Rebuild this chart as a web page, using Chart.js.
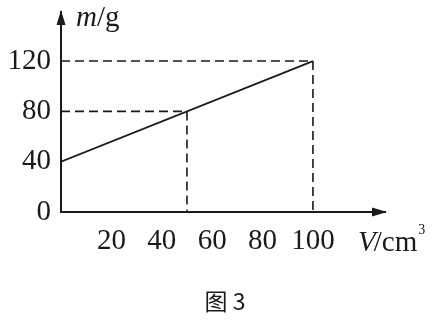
<!DOCTYPE html>
<html>
<head>
<meta charset="utf-8">
<script src="https://cdn.jsdelivr.net/npm/chart.js@4/dist/chart.umd.min.js"></script>
<style>
html,body{margin:0;padding:0;background:#fff;}
#wrap{width:437px;height:323px;position:relative;}
</style>
</head>
<body>
<div id="wrap"><canvas id="c" width="437" height="323"></canvas></div>
<script>
// Data
const volumes = [0, 100];          // V / cm^3
const masses = [40, 120];          // m / g
const guideA = [50, 80];           // dashed guide point (V, m)
const guideB = [100, 120];         // dashed guide point (V, m)
const xTickValues = [20, 40, 60, 80, 100];
const yTickValues = [0, 40, 80, 120];
const xTitle = ['V', '/cm', '3'];
const yTitle = ['m', '/g'];
const caption = '图 3';

const INK = '#1a1a1a';
const DIGIT_FONT = {family: '"Liberation Serif", "Times New Roman", serif', size: 29};

const mainLine = volumes.map((v, i) => ({x: v, y: masses[i]}));
const dashA = [{x: 0, y: guideA[1]}, {x: guideA[0], y: guideA[1]}, {x: guideA[0], y: 0}];
const dashB = [{x: 0, y: guideB[1]}, {x: guideB[0], y: guideB[1]}, {x: guideB[0], y: 0}];

const decor = {
  id: 'decor',
  afterDraw(chart) {
    const {ctx, chartArea: a} = chart;
    ctx.save();
    ctx.fillStyle = INK;
    // arrow heads
    ctx.beginPath();
    ctx.moveTo(a.left, a.top - 2);
    ctx.lineTo(a.left - 4.5, a.top + 13);
    ctx.lineTo(a.left + 4.5, a.top + 13);
    ctx.closePath();
    ctx.fill();
    ctx.beginPath();
    ctx.moveTo(a.right + 2, a.bottom);
    ctx.lineTo(a.right - 13, a.bottom - 4.5);
    ctx.lineTo(a.right - 13, a.bottom + 4.5);
    ctx.closePath();
    ctx.fill();

    ctx.textBaseline = 'alphabetic';
    ctx.textAlign = 'left';
    // y title m/g
    let x = 76, y = 26;
    ctx.font = 'italic 29px "Liberation Serif", serif';
    ctx.fillText(yTitle[0], x, y);
    x += ctx.measureText(yTitle[0]).width;
    ctx.font = '29px "Liberation Serif", serif';
    ctx.fillText(yTitle[1], x, y);

    // x title V/cm3
    x = 358; y = 251;
    ctx.font = 'italic 29px "Liberation Serif", serif';
    ctx.fillText(xTitle[0], x, y);
    x += ctx.measureText(xTitle[0]).width - 2;
    ctx.font = '29px "Liberation Serif", serif';
    ctx.fillText(xTitle[1], x, y);
    x += ctx.measureText(xTitle[1]).width + 1;
    ctx.font = '14px "Liberation Serif", serif';
    ctx.fillText(xTitle[2], x, 234);

    // caption
    ctx.font = '23px "Noto Sans CJK SC", sans-serif';
    ctx.textAlign = 'center';
    ctx.fillText(caption, 225, 310);
    ctx.restore();
  }
};

new Chart(document.getElementById('c'), {
  type: 'line',
  data: {
    datasets: [
      {data: mainLine, borderColor: INK, borderWidth: 1.8, pointRadius: 0, fill: false},
      {data: dashA, borderColor: INK, borderWidth: 1.6, borderDash: [9, 5], pointRadius: 0, fill: false},
      {data: dashB, borderColor: INK, borderWidth: 1.6, borderDash: [9, 5], pointRadius: 0, fill: false}
    ]
  },
  options: {
    responsive: false,
    animation: false,
    events: [],
    layout: {padding: {left: 0, right: 52, top: 12, bottom: 0}},
    plugins: {legend: {display: false}, tooltip: {enabled: false}},
    scales: {
      x: {
        type: 'linear',
        min: 0,
        max: 128.6,
        grid: {display: false, drawTicks: false},
        border: {display: true, color: INK, width: 2},
        ticks: {color: INK, font: DIGIT_FONT, padding: 12, maxRotation: 0},
        afterBuildTicks(s) { s.ticks = xTickValues.map(v => ({value: v})); },
        afterFit(s) { s.height = 111; s.paddingLeft = 0; s.paddingRight = 0; }
      },
      y: {
        type: 'linear',
        min: 0,
        max: 159,
        grid: {display: false, drawTicks: false},
        border: {display: true, color: INK, width: 2},
        ticks: {color: INK, font: DIGIT_FONT, padding: 10},
        afterBuildTicks(s) { s.ticks = yTickValues.map(v => ({value: v})); },
        afterFit(s) { s.width = 61; s.paddingTop = 0; s.paddingBottom = 0; }
      }
    }
  },
  plugins: [decor]
});
</script>
</body>
</html>
